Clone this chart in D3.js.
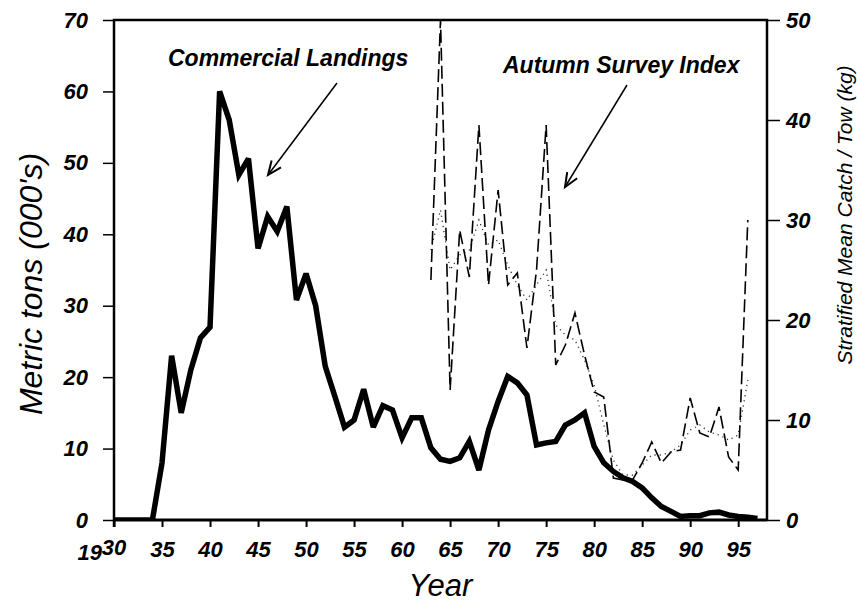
<!DOCTYPE html>
<html lang="en">

<head>
    <meta charset="UTF-8">
    <script src="https://cdnjs.cloudflare.com/ajax/libs/d3/7.8.5/d3.min.js" type="text/JavaScript"></script>
    <title>Commercial Landings and Autumn Survey Index</title>
    <style>
        body { margin: 0; background: #fff; }
        svg { display: block; font-family: "Liberation Sans", Arial, sans-serif; }
    </style>
</head>

<body>
    <svg width="857" height="603"></svg>
    <script>
        // commercial landings, metric tons (000's)
        var landingYears = [1930, 1931, 1932, 1933, 1934, 1935, 1936, 1937, 1938, 1939,
            1940, 1941, 1942, 1943, 1944, 1945, 1946, 1947, 1948, 1949,
            1950, 1951, 1952, 1953, 1954, 1955, 1956, 1957, 1958, 1959,
            1960, 1961, 1962, 1963, 1964, 1965, 1966, 1967, 1968, 1969,
            1970, 1971, 1972, 1973, 1974, 1975, 1976, 1977, 1978, 1979,
            1980, 1981, 1982, 1983, 1984, 1985, 1986, 1987, 1988, 1989,
            1990, 1991, 1992, 1993, 1994, 1995, 1996, 1997];
        var landings = [0, 0, 0, 0, 0, 8, 23, 15, 21, 25.5,
            27, 60, 56, 48.3, 50.6, 38, 42.5, 40.4, 43.9, 30.8,
            34.5, 30, 21.5, 17.3, 13, 14, 18.3, 13, 16, 15.4,
            11.5, 14.3, 14.3, 10.1, 8.5, 8.2, 8.7, 11, 7, 12.6,
            16.6, 20.1, 19.2, 17.5, 10.5, 10.8, 11, 13.3, 14, 15,
            10.3, 8, 6.8, 5.9, 5.4, 4.5, 3.1, 1.9, 1.2, 0.5,
            0.6, 0.6, 1, 1.1, 0.7, 0.5, 0.4, 0.2];

        // autumn survey, stratified mean catch / tow (kg)
        var surveyYears = [1963, 1964, 1965, 1966, 1967, 1968, 1969,
            1970, 1971, 1972, 1973, 1974, 1975, 1976, 1977, 1978, 1979,
            1980, 1981, 1982, 1983, 1984, 1985, 1986, 1987, 1988, 1989,
            1990, 1991, 1992, 1993, 1994, 1995, 1996];
        var surveyIndex = [24, 50, 13, 29, 24.3, 39.5, 23.5,
            33, 23.5, 24.7, 17.2, 25, 39.5, 15.5, 17.5, 20.7, 16.5,
            12.8, 12.3, 4.2, 4, 4, 5.7, 7.8, 5.7, 6.8, 7,
            12.2, 8.7, 8.3, 11.3, 6.3, 5, 30];
        var surveySmooth = [27, 31, 25, 26.5, 27, 30, 27.5,
            28, 25.5, 23.5, 22, 23.5, 25, 19.5, 18.5, 18, 16,
            13.5, 9.5, 6, 4.5, 4.5, 5.5, 6.5, 6.5, 6.8, 7.5,
            9, 9.5, 8.8, 8.5, 8, 8.5, 14];

        var yearTicks = [1930, 1935, 1940, 1945, 1950, 1955, 1960, 1965, 1970, 1975, 1980, 1985, 1990, 1995];
        var leftTicks = [0, 10, 20, 30, 40, 50, 60, 70];
        var rightTicks = [0, 10, 20, 30, 40, 50];

        var pLeft = 114, pRight = 767, pTop = 20, pBottom = 520;

        var x = d3.scaleLinear().domain([1930, 1998]).range([pLeft, pRight]);
        var yL = d3.scaleLinear().domain([0, 70]).range([pBottom, pTop]);
        var yR = d3.scaleLinear().domain([0, 50]).range([pBottom, pTop]);

        var svg = d3.select("svg");

        svg.append("defs").append("clipPath").attr("id", "plot")
            .append("rect").attr("x", pLeft).attr("y", pTop - 1)
            .attr("width", pRight - pLeft).attr("height", pBottom - pTop + 1);

        // x axis
        var xAxis = d3.axisBottom(x).tickValues(yearTicks).tickSize(7).tickPadding(9)
            .tickFormat(d => d == 1930 ? "" : String(d).slice(2));
        var gx = svg.append("g").attr("transform", "translate(0," + pBottom + ")").call(xAxis);
        gx.select(".domain").remove();
        gx.selectAll(".tick line").attr("stroke", "#000").attr("stroke-width", 2);
        gx.selectAll(".tick text").attr("font-size", 22).attr("font-weight", "bold")
            .attr("font-style", "italic").attr("fill", "#000").attr("dy", "0.95em");

        // 1930 label with small "19" prefix
        gx.append("text").attr("x", x(1930)).attr("y", 35)
            .attr("font-size", 22).attr("font-weight", "bold").attr("font-style", "italic")
            .attr("text-anchor", "middle").attr("fill", "#000").text("30");
        gx.append("text").attr("x", x(1930) - 12).attr("y", 40)
            .attr("font-size", 22).attr("font-weight", "bold").attr("font-style", "italic")
            .attr("text-anchor", "end").attr("fill", "#000").text("19");

        // left axis
        var gl = svg.append("g").attr("transform", "translate(" + pLeft + ",0)")
            .call(d3.axisLeft(yL).tickValues(leftTicks).tickSize(11).tickPadding(15));
        gl.select(".domain").remove();
        gl.selectAll(".tick line").attr("stroke", "#000").attr("stroke-width", 1.5);
        gl.selectAll(".tick text").attr("font-size", 22).attr("font-weight", "bold")
            .attr("font-style", "italic").attr("fill", "#000");

        // right axis
        var gr = svg.append("g").attr("transform", "translate(" + pRight + ",0)")
            .call(d3.axisRight(yR).tickValues(rightTicks).tickSize(13).tickPadding(6));
        gr.select(".domain").remove();
        gr.selectAll(".tick line").attr("stroke", "#000").attr("stroke-width", 1.5);
        gr.selectAll(".tick text").attr("font-size", 22).attr("font-weight", "bold")
            .attr("font-style", "italic").attr("fill", "#000");

        // frame
        svg.append("path")
            .attr("d", "M" + pLeft + "," + (pBottom + 7) + "V" + pTop + "H" + pRight + "V" + pBottom)
            .attr("fill", "none").attr("stroke", "#000").attr("stroke-width", 2.5);
        svg.append("line").attr("x1", pLeft).attr("x2", pRight).attr("y1", pBottom).attr("y2", pBottom)
            .attr("stroke", "#000").attr("stroke-width", 3);

        // lines
        var plot = svg.append("g").attr("clip-path", "url(#plot)");

        var surveyLine = d3.line().x((d, i) => x(surveyYears[i])).y(d => yR(d));
        plot.append("path").datum(surveySmooth)
            .attr("d", surveyLine)
            .attr("fill", "none").attr("stroke", "#333").attr("stroke-width", 1.3)
            .attr("stroke-dasharray", "1.2,4");

        plot.append("path").datum(surveyIndex)
            .attr("d", surveyLine)
            .attr("fill", "none").attr("stroke", "#000").attr("stroke-width", 1.6)
            .attr("stroke-dasharray", "13,5");

        var landLine = d3.line().x((d, i) => x(landingYears[i])).y(d => yL(d));
        plot.append("path").datum(landings)
            .attr("d", landLine)
            .attr("fill", "none").attr("stroke", "#000").attr("stroke-width", 5.5)
            .attr("stroke-linejoin", "miter").attr("stroke-miterlimit", 3);

        // annotations
        function arrow(x1, y1, x2, y2) {
            var a = Math.atan2(y2 - y1, x2 - x1), h = 15, w = 0.4;
            svg.append("line").attr("x1", x1).attr("y1", y1).attr("x2", x2).attr("y2", y2)
                .attr("stroke", "#000").attr("stroke-width", 1.5);
            svg.append("path")
                .attr("d", "M" + (x2 - h * Math.cos(a - w)) + "," + (y2 - h * Math.sin(a - w)) +
                    "L" + x2 + "," + y2 +
                    "L" + (x2 - h * Math.cos(a + w)) + "," + (y2 - h * Math.sin(a + w)))
                .attr("fill", "none").attr("stroke", "#000").attr("stroke-width", 2);
        }

        svg.append("text").attr("x", 168).attr("y", 66)
            .attr("font-size", 23).attr("font-weight", "bold").attr("font-style", "italic")
            .text("Commercial Landings");
        arrow(337, 83, 268, 175);

        svg.append("text").attr("x", 503).attr("y", 73)
            .attr("font-size", 23).attr("font-weight", "bold").attr("font-style", "italic")
            .text("Autumn Survey Index");
        arrow(627, 85, 565, 187);

        // axis titles
        svg.append("text").attr("transform", "translate(42,284) rotate(-90)")
            .attr("text-anchor", "middle").attr("font-size", 32).attr("font-style", "italic")
            .text("Metric tons (000's)");

        svg.append("text").attr("transform", "translate(852,215) rotate(-90)")
            .attr("text-anchor", "middle").attr("font-size", 21).attr("font-style", "italic")
            .text("Stratified Mean Catch / Tow (kg)");

        svg.append("text").attr("x", (pLeft + pRight) / 2).attr("y", 596)
            .attr("text-anchor", "middle").attr("font-size", 31).attr("font-style", "italic")
            .text("Year");
    </script>
</body>

</html>
